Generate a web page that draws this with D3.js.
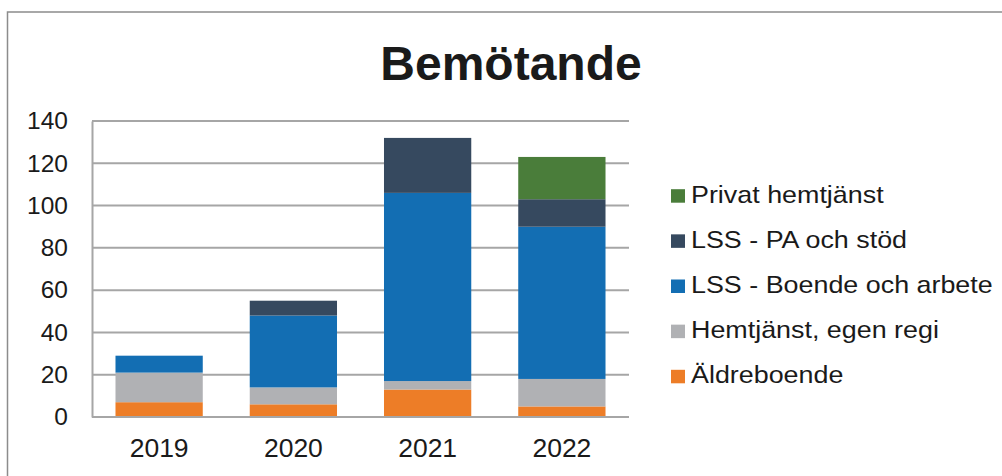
<!DOCTYPE html>
<html>
<head>
<meta charset="utf-8">
<script src="https://cdn.jsdelivr.net/npm/d3@7"></script>
<style>
    body { margin: 0; background: #fff; }
    text { font-family: "Liberation Sans", Arial, sans-serif; fill: #1a1a1a; }
    .grid line { stroke: #a6a6a6; stroke-width: 2; }
    .axis path, .axis line { stroke: #a6a6a6; stroke-width: 2; }
</style>
</head>
<body>
<div id="chart"></div>
<script>
var years = ["2019", "2020", "2021", "2022"];
var seriesNames = ["Äldreboende", "Hemtjänst, egen regi", "LSS - Boende och arbete", "LSS - PA och stöd", "Privat hemtjänst"];
var aldreboende = [7, 6, 13, 5];
var hemtjanst = [14, 8, 4, 13];
var lssBoende = [8, 34, 89, 72];
var lssPa = [0, 7, 26, 13];
var privat = [0, 0, 0, 20];
var colors = ["#ed7d27", "#b0b1b4", "#136eb3", "#36495f", "#4a7d3a"];
var yTicks = [0, 20, 40, 60, 80, 100, 120, 140];

function init() {
    var w = 1002;
    var h = 476;
    var left = 92, right = 629, top = 121, bottom = 417;

    var values = [aldreboende, hemtjanst, lssBoende, lssPa, privat];
    var table = years.map(function(y, i) {
        var row = { year: y };
        seriesNames.forEach(function(s, k) { row[s] = values[k][i]; });
        return row;
    });
    var stacked = d3.stack().keys(seriesNames)(table);

    var xScale = d3.scaleBand().domain(years).range([left, right]).paddingInner(0.35).paddingOuter(0.175);
    var yScale = d3.scaleLinear().domain([0, 140]).range([bottom, top]);

    var svg = d3.select("#chart").append("svg").attr("width", w).attr("height", h);

    // outer chart border (only top and left are visible)
    svg.append("rect")
        .attr("x", 7.5).attr("y", 12)
        .attr("width", w + 20).attr("height", h + 20)
        .attr("fill", "none").attr("stroke", "#8c8c8c").attr("stroke-width", 1.5);

    svg.append("text")
        .attr("x", 511).attr("y", 80)
        .attr("text-anchor", "middle")
        .attr("font-size", 48).attr("font-weight", "bold")
        .text("Bemötande");

    // gridlines
    svg.append("g").attr("class", "grid")
        .selectAll("line").data(yTicks.slice(1)).enter().append("line")
        .attr("x1", left).attr("x2", right)
        .attr("y1", function(d) { return yScale(d); })
        .attr("y2", function(d) { return yScale(d); });

    svg.append("g").selectAll("g").data(stacked).enter().append("g")
        .attr("fill", function(d, i) { return colors[i]; })
        .selectAll("rect").data(function(d) { return d; }).enter().append("rect")
        .attr("x", function(d) { return xScale(d.data.year); })
        .attr("width", xScale.bandwidth())
        .attr("y", function(d) { return yScale(d[1]); })
        .attr("height", function(d) { return yScale(d[0]) - yScale(d[1]); });

    var yAxis = d3.axisLeft(yScale).tickValues(yTicks).tickSize(0).tickPadding(24);
    var gy = svg.append("g").attr("class", "axis")
        .attr("transform", "translate(" + left + ",0)").call(yAxis);
    gy.selectAll("text").attr("font-size", 24.5).attr("fill", "#1a1a1a")
        .attr("font-family", "Liberation Sans, Arial, sans-serif");

    var xAxis = d3.axisBottom(xScale).tickSize(0);
    var gx = svg.append("g").attr("class", "axis")
        .attr("transform", "translate(0," + bottom + ")").call(xAxis);
    gx.select(".domain").attr("d", "M" + left + ",0H" + right);
    gx.selectAll("text").attr("font-size", 26.5).attr("fill", "#1a1a1a")
        .attr("dy", null).attr("y", 40)
        .attr("font-family", "Liberation Sans, Arial, sans-serif");

    // legend, reversed order
    var legend = svg.append("g").selectAll("g").data(seriesNames.slice().reverse()).enter().append("g")
        .attr("transform", function(d, i) { return "translate(671," + (202.7 + i * 45.15) + ")"; });
    legend.append("rect")
        .attr("x", 0).attr("y", -13.5).attr("width", 14).attr("height", 13.5)
        .attr("fill", function(d) { return colors[seriesNames.indexOf(d)]; });
    legend.append("text")
        .attr("transform", "translate(20,0) scale(1.12,1)")
        .attr("font-size", 24)
        .text(function(d) { return d; });
}

window.onload = init;
</script>
</body>
</html>
